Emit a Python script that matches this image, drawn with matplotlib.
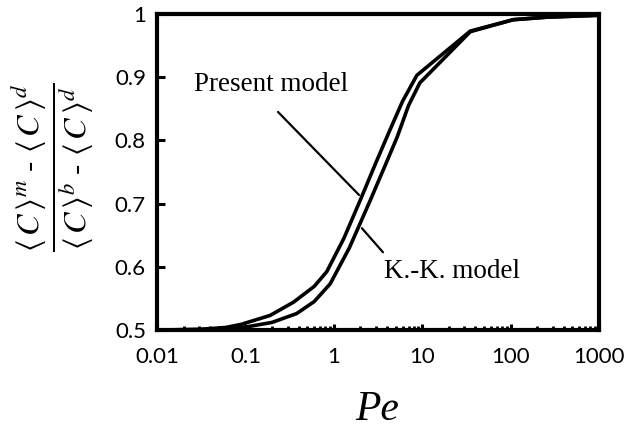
import numpy as np
import matplotlib
matplotlib.use('Agg')
import matplotlib.pyplot as plt
from matplotlib.ticker import LogLocator, FixedLocator, NullFormatter

# data
pe_present = [0.01, 0.03, 0.06, 0.09, 0.19, 0.35, 0.6, 0.83, 1.3, 2.0, 3.0, 4.3, 6.0, 8.7,
              35, 107, 257, 1000]
c_present = [0.500, 0.501, 0.504, 0.509, 0.523, 0.544, 0.569, 0.592, 0.645, 0.706, 0.765,
             0.816, 0.862, 0.903, 0.973, 0.991, 0.995, 0.998]

pe_kk = [0.01, 0.05, 0.104, 0.2, 0.38, 0.6, 0.91, 1.5, 2.6, 3.8, 5.2, 7.0, 9.4,
         35, 107, 257, 1000]
c_kk = [0.500, 0.501, 0.505, 0.512, 0.526, 0.545, 0.573, 0.630, 0.706, 0.760, 0.805,
        0.855, 0.891, 0.972, 0.991, 0.995, 0.998]

x_ticks = [0.01, 0.1, 1, 10, 100, 1000]
x_labels = ['0.01', '0.1', '1', '10', '100', '1000']
y_ticks = [0.5, 0.6, 0.7, 0.8, 0.9, 1.0]
y_labels = ['0.5', '0.6', '0.7', '0.8', '0.9', '1']

plt.rcParams['mathtext.fontset'] = 'stix'

fig = plt.figure(figsize=(6.36, 4.33), dpi=100)
ax = fig.add_axes([157/636, 1-330/433, 442/636, 316/433])

ax.plot(pe_present, c_present, color='black', lw=2.6, solid_joinstyle='round')
ax.plot(pe_kk, c_kk, color='black', lw=2.6, solid_joinstyle='round')

ax.set_xscale('log')
ax.set_xlim(0.01, 1000)
ax.set_ylim(0.5, 1.0)

ax.xaxis.set_major_locator(FixedLocator(x_ticks))
ax.set_xticklabels(x_labels)
ax.xaxis.set_minor_locator(LogLocator(base=10, subs=np.arange(2, 10)))
ax.xaxis.set_minor_formatter(NullFormatter())
ax.set_yticks(y_ticks)
ax.set_yticklabels(y_labels)

for s in ax.spines.values():
    s.set_linewidth(3)

ax.tick_params(axis='y', which='major', direction='in', length=6, width=2.2,
               labelsize=16, pad=8)
ax.tick_params(axis='x', which='major', direction='in', length=4, width=2.2,
               labelsize=16, pad=12)
ax.tick_params(axis='x', which='minor', direction='in', length=3, width=2)
for lab in ax.get_xticklabels() + ax.get_yticklabels():
    lab.set_family('Lato')

# annotations
ax.annotate('', xy=(1.93, 0.7136), xytext=(0.234, 0.845),
            arrowprops=dict(arrowstyle='-', color='black', lw=1.6,
                            shrinkA=0, shrinkB=0))
ax.text(0.195, 0.888, 'Present model', family='Liberation Serif', fontsize=19.5,
        ha='center', va='center')
ax.annotate('', xy=(2.08, 0.661), xytext=(3.6, 0.623),
            arrowprops=dict(arrowstyle='-', color='black', lw=1.6,
                            shrinkA=0, shrinkB=0))
ax.text(22, 0.592, 'K.-K. model', family='Liberation Serif', fontsize=19.5,
        ha='center', va='center')

fig.text(377/636, 1-410/433, 'Pe', family='Liberation Serif', style='italic',
         fontsize=30, ha='center', va='center')
fig.text(54/636, 1-167/433,
         r'$\frac{\langle\, C\,\rangle^{m}\ \text{-}\ \langle\, C\,\rangle^{d}}'
         r'{\langle\, C\,\rangle^{b}\ \text{-}\ \langle\, C\,\rangle^{d}}$',
         fontsize=33, rotation=90, ha='center', va='center')

fig.savefig('out.png', dpi=100)
